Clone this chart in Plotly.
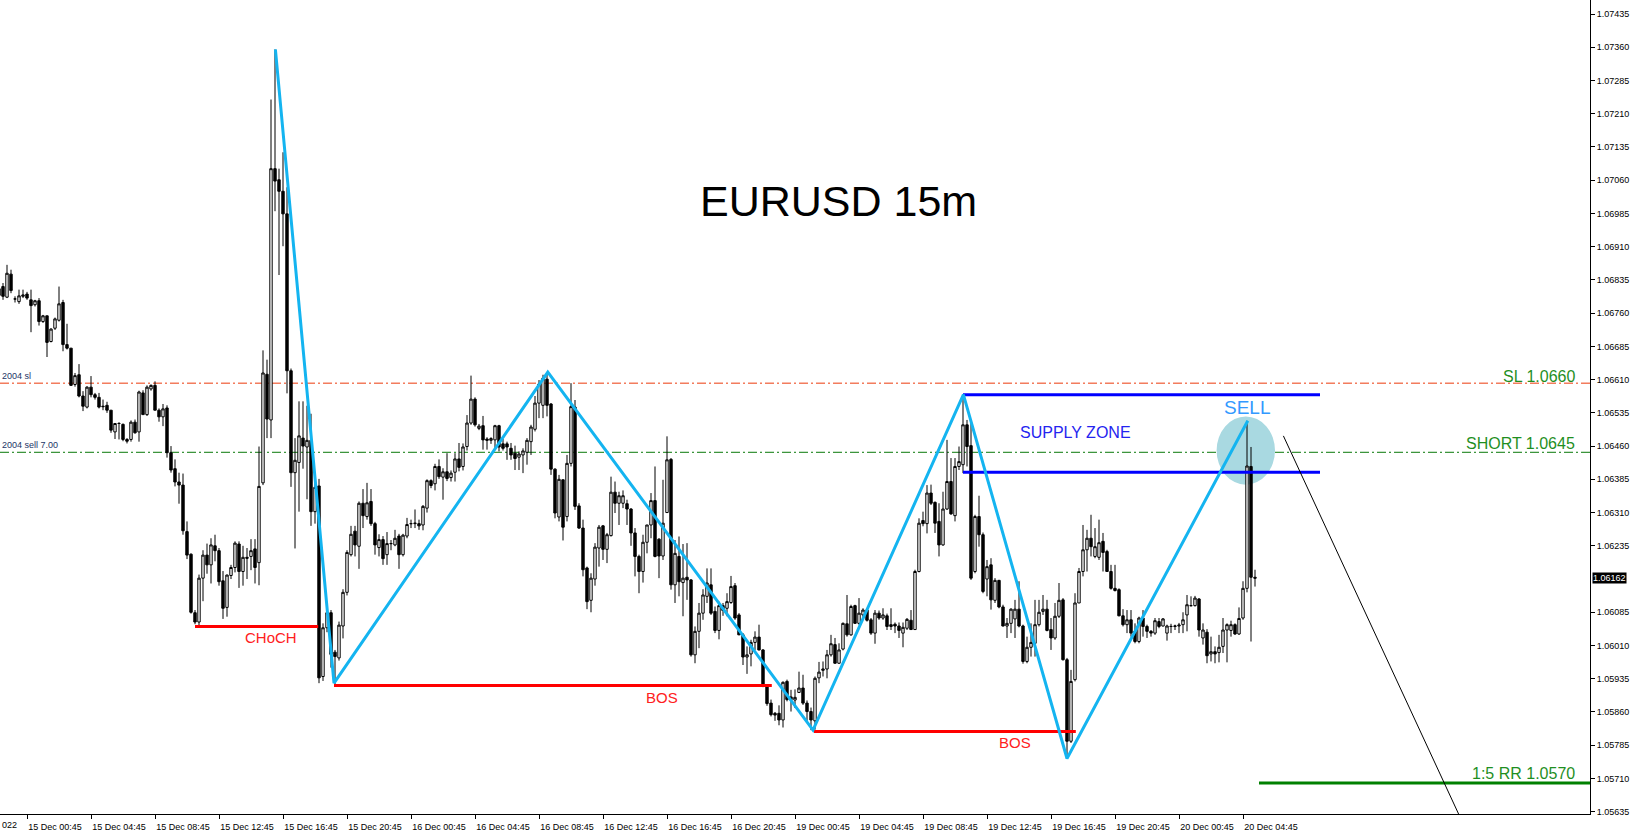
import plotly.graph_objects as go

# ---------------- data ----------------
first_bar = -7  # bar index of the first candle (0 = 15 Dec 00:45, 15-minute bars)

opens = [1.06815,1.06820,1.06796,1.06848,1.06792,1.06786,1.06798,1.06803,1.06790,1.06779,
1.06788,1.06741,1.06754,1.06696,1.06726,1.06744,1.06784,1.06689,1.06681,1.06599,
1.06621,1.06573,1.06548,1.06593,1.06576,1.06570,1.06550,1.06552,1.06541,1.06492,
1.06511,1.06509,1.06475,1.06475,1.06514,1.06492,1.06580,1.06531,1.06589,1.06597,
1.06541,1.06526,1.06546,1.06445,1.06409,1.06379,1.06372,1.06267,1.06216,1.06084,
1.06063,1.06162,1.06214,1.06192,1.06235,1.06224,1.06156,1.06096,1.06168,1.06186,
1.06239,1.06177,1.06209,1.06211,1.06228,1.06197,1.06377,1.06622,1.06519,1.07086,
1.07061,1.07035,1.06984,1.06630,1.06400,1.06423,1.06478,1.06458,1.06473,1.06312,
1.06370,1.05940,1.06050,1.06084,1.05995,1.05982,1.06054,1.06130,1.06215,1.06268,
1.06234,1.06331,1.06301,1.06335,1.06285,1.06231,1.06249,1.06215,1.06240,1.06237,
1.06257,1.06215,1.06257,1.06285,1.06285,1.06285,1.06282,1.06320,1.06382,1.06375,
1.06414,1.06390,1.06402,1.06389,1.06401,1.06431,1.06414,1.06459,1.06512,1.06566,
1.06500,1.06506,1.06476,1.06473,1.06474,1.06506,1.06465,1.06465,1.06455,1.06444,
1.06435,1.06440,1.06446,1.06470,1.06498,1.06557,1.06552,1.06611,1.06555,1.06408,
1.06300,1.06384,1.06301,1.06421,1.06548,1.06325,1.06275,1.06185,1.06112,1.06160,
1.06230,1.06280,1.06227,1.06258,1.06356,1.06331,1.06331,1.06330,1.06318,1.06264,
1.06211,1.06177,1.06243,1.06282,1.06337,1.06250,1.06212,1.06310,1.06430,1.06147,
1.06211,1.06152,1.06164,1.06158,1.05989,1.06042,1.06083,1.06121,1.06147,1.06087,
1.06044,1.06100,1.06094,1.06107,1.06145,1.06079,1.06034,1.05984,1.05991,1.06017,
1.06029,1.06000,1.05919,1.05880,1.05857,1.05857,1.05842,1.05929,1.05894,1.05887,
1.05904,1.05914,1.05880,1.05861,1.05840,1.05937,1.05954,1.05957,1.05989,1.06012,
1.05970,1.06002,1.06059,1.06034,1.06100,1.06060,1.06079,1.06090,1.06068,1.06038,
1.06083,1.06072,1.06077,1.06057,1.06058,1.06054,1.06038,1.06049,1.06067,1.06046,
1.06177,1.06292,1.06285,1.06354,1.06333,1.06290,1.06237,1.06318,1.06380,1.06303,
1.06414,1.06418,1.06508,1.06461,1.06177,1.06301,1.06260,1.06160,1.06192,1.06112,
1.06157,1.06097,1.06054,1.06060,1.06070,1.06092,1.06054,1.05974,1.06006,1.06015,
1.06057,1.06087,1.06092,1.06046,1.06027,1.06076,1.06113,1.05978,1.05794,1.05933,
1.06106,1.06177,1.06226,1.06252,1.06211,1.06209,1.06245,1.06222,1.06177,1.06139,
1.06136,1.06077,1.06057,1.06068,1.06042,1.06019,1.06072,1.06053,1.06042,1.06038,
1.06064,1.06054,1.06038,1.06053,1.06053,1.06054,1.06057,1.06079,1.06100,1.06100,
1.06115,1.06027,1.06040,1.05991,1.05996,1.05994,1.06008,1.06045,1.06044,1.06057,
1.06036,1.06072,1.06139,1.06414,1.06164]

highs = [1.06825,1.06828,1.06869,1.06858,1.06798,1.06813,1.06813,1.06808,1.06813,1.06790,
1.06794,1.06756,1.06754,1.06726,1.06750,1.06820,1.06790,1.06736,1.06681,1.06625,
1.06645,1.06584,1.06595,1.06618,1.06580,1.06580,1.06565,1.06560,1.06541,1.06511,
1.06514,1.06511,1.06478,1.06518,1.06520,1.06585,1.06586,1.06597,1.06599,1.06606,
1.06545,1.06555,1.06552,1.06460,1.06430,1.06400,1.06398,1.06290,1.06218,1.06090,
1.06170,1.06225,1.06240,1.06252,1.06260,1.06230,1.06178,1.06170,1.06192,1.06245,
1.06245,1.06235,1.06230,1.06250,1.06250,1.06459,1.06676,1.06655,1.07242,1.07355,
1.07086,1.07123,1.07044,1.06635,1.06478,1.06561,1.06561,1.06551,1.06533,1.06386,
1.06386,1.06060,1.06095,1.06090,1.06000,1.06064,1.06137,1.06225,1.06280,1.06280,
1.06335,1.06363,1.06377,1.06363,1.06289,1.06261,1.06257,1.06266,1.06248,1.06271,
1.06262,1.06262,1.06298,1.06294,1.06317,1.06294,1.06327,1.06385,1.06385,1.06420,
1.06430,1.06410,1.06444,1.06405,1.06444,1.06467,1.06466,1.06530,1.06619,1.06570,
1.06510,1.06528,1.06480,1.06480,1.06508,1.06508,1.06476,1.06470,1.06467,1.06461,
1.06448,1.06455,1.06478,1.06508,1.06573,1.06609,1.06621,1.06627,1.06557,1.06410,
1.06395,1.06385,1.06440,1.06602,1.06564,1.06331,1.06294,1.06188,1.06173,1.06241,
1.06282,1.06282,1.06264,1.06391,1.06380,1.06357,1.06360,1.06339,1.06320,1.06275,
1.06215,1.06260,1.06282,1.06354,1.06414,1.06252,1.06384,1.06482,1.06433,1.06248,
1.06256,1.06239,1.06241,1.06160,1.06053,1.06106,1.06137,1.06184,1.06184,1.06098,
1.06109,1.06106,1.06128,1.06167,1.06151,1.06083,1.06038,1.06008,1.06023,1.06042,
1.06057,1.06002,1.05922,1.05888,1.05860,1.05875,1.05929,1.05933,1.05910,1.05911,
1.05951,1.05944,1.05886,1.05870,1.05940,1.05973,1.05974,1.06000,1.06034,1.06027,
1.06015,1.06062,1.06124,1.06102,1.06102,1.06117,1.06094,1.06094,1.06072,1.06090,
1.06089,1.06094,1.06082,1.06094,1.06062,1.06062,1.06062,1.06072,1.06090,1.06181,
1.06297,1.06312,1.06372,1.06373,1.06335,1.06331,1.06357,1.06474,1.06433,1.06433,
1.06459,1.06576,1.06519,1.06512,1.06305,1.06348,1.06265,1.06203,1.06207,1.06162,
1.06158,1.06102,1.06072,1.06094,1.06113,1.06155,1.06057,1.06030,1.06060,1.06113,
1.06113,1.06124,1.06113,1.06072,1.06106,1.06151,1.06117,1.05982,1.05955,1.06128,
1.06185,1.06282,1.06271,1.06305,1.06275,1.06294,1.06264,1.06226,1.06192,1.06192,
1.06139,1.06092,1.06090,1.06090,1.06060,1.06075,1.06090,1.06057,1.06045,1.06072,
1.06072,1.06072,1.06057,1.06059,1.06057,1.06061,1.06085,1.06124,1.06121,1.06122,
1.06117,1.06060,1.06047,1.06030,1.06008,1.06034,1.06072,1.06060,1.06066,1.06060,
1.06096,1.06155,1.06517,1.06458,1.06181]

lows = [1.06795,1.06790,1.06794,1.06805,1.06784,1.06781,1.06794,1.06790,1.06717,1.06775,
1.06732,1.06738,1.06661,1.06694,1.06722,1.06741,1.06674,1.06678,1.06596,1.06594,
1.06570,1.06539,1.06545,1.06570,1.06565,1.06545,1.06541,1.06535,1.06490,1.06476,
1.06475,1.06471,1.06466,1.06470,1.06488,1.06470,1.06531,1.06528,1.06585,1.06541,
1.06515,1.06505,1.06434,1.06400,1.06369,1.06330,1.06260,1.06205,1.06082,1.06058,
1.06056,1.06110,1.06172,1.06150,1.06200,1.06145,1.06070,1.06075,1.06160,1.06175,
1.06140,1.06145,1.06160,1.06180,1.06150,1.06146,1.06372,1.06478,1.06478,1.06990,
1.06846,1.06911,1.06579,1.06368,1.06229,1.06312,1.06409,1.06340,1.06280,1.06285,
1.05925,1.05930,1.06040,1.05960,1.05920,1.05976,1.06026,1.06123,1.06211,1.06211,
1.06183,1.06275,1.06294,1.06280,1.06215,1.06211,1.06192,1.06192,1.06225,1.06234,
1.06183,1.06211,1.06252,1.06275,1.06275,1.06271,1.06270,1.06310,1.06365,1.06360,
1.06386,1.06339,1.06381,1.06380,1.06380,1.06403,1.06405,1.06450,1.06508,1.06504,
1.06496,1.06452,1.06452,1.06465,1.06452,1.06448,1.06450,1.06429,1.06429,1.06406,
1.06406,1.06399,1.06418,1.06440,1.06493,1.06523,1.06523,1.06527,1.06395,1.06297,
1.06290,1.06247,1.06290,1.06414,1.06316,1.06273,1.06166,1.06092,1.06085,1.06145,
1.06188,1.06203,1.06196,1.06256,1.06309,1.06282,1.06320,1.06282,1.06235,1.06166,
1.06128,1.06152,1.06218,1.06252,1.06209,1.06162,1.06203,1.06309,1.06136,1.06106,
1.06121,1.06076,1.06113,1.05985,1.05970,1.06004,1.06068,1.06106,1.06079,1.06038,
1.06024,1.06077,1.06076,1.06104,1.06068,1.06034,1.05966,1.05946,1.05963,1.06000,
1.05999,1.05916,1.05874,1.05850,1.05840,1.05830,1.05825,1.05884,1.05861,1.05869,
1.05903,1.05876,1.05840,1.05819,1.05820,1.05925,1.05940,1.05936,1.05985,1.05969,
1.05969,1.05999,1.06030,1.06032,1.06059,1.06057,1.06068,1.06064,1.06034,1.06014,
1.06068,1.06068,1.06045,1.06045,1.06038,1.06027,1.06006,1.06045,1.06045,1.06045,
1.06175,1.06279,1.06263,1.06327,1.06264,1.06211,1.06235,1.06316,1.06305,1.06290,
1.06406,1.06399,1.06414,1.06158,1.06173,1.06233,1.06128,1.06121,1.06091,1.06106,
1.06094,1.06053,1.06027,1.06038,1.06027,1.06051,1.05969,1.05970,1.05985,1.05985,
1.06053,1.06079,1.06042,1.06000,1.06023,1.06072,1.05976,1.05755,1.05790,1.05929,
1.06106,1.06166,1.06177,1.06211,1.06207,1.06203,1.06177,1.06177,1.06136,1.06132,
1.06076,1.06053,1.06038,1.06030,1.06015,1.06015,1.06030,1.06027,1.06030,1.06034,
1.06049,1.06053,1.06021,1.06038,1.06045,1.06038,1.06038,1.06042,1.06098,1.06098,
1.06030,1.06012,1.05970,1.05974,1.05970,1.05972,1.05993,1.05972,1.06030,1.06034,
1.06034,1.06068,1.06130,1.06019,1.06143]

closes = [1.06800,1.06798,1.06850,1.06811,1.06792,1.06799,1.06801,1.06794,1.06777,1.06788,
1.06741,1.06754,1.06694,1.06724,1.06747,1.06781,1.06689,1.06681,1.06597,1.06619,
1.06573,1.06550,1.06593,1.06576,1.06570,1.06548,1.06549,1.06541,1.06496,1.06511,
1.06511,1.06475,1.06471,1.06514,1.06490,1.06582,1.06531,1.06593,1.06597,1.06541,
1.06526,1.06544,1.06445,1.06406,1.06379,1.06372,1.06269,1.06214,1.06085,1.06063,
1.06162,1.06214,1.06192,1.06237,1.06224,1.06154,1.06094,1.06169,1.06186,1.06241,
1.06177,1.06209,1.06207,1.06224,1.06186,1.06369,1.06625,1.06521,1.07086,1.07058,
1.07035,1.06984,1.06630,1.06400,1.06428,1.06483,1.06460,1.06473,1.06312,1.06367,
1.05937,1.06050,1.06084,1.05990,1.05985,1.06056,1.06130,1.06220,1.06261,1.06237,
1.06331,1.06303,1.06332,1.06285,1.06237,1.06249,1.06206,1.06240,1.06240,1.06252,
1.06215,1.06259,1.06283,1.06285,1.06286,1.06280,1.06324,1.06382,1.06371,1.06414,
1.06391,1.06402,1.06387,1.06399,1.06431,1.06412,1.06458,1.06512,1.06566,1.06508,
1.06505,1.06474,1.06473,1.06477,1.06506,1.06458,1.06455,1.06458,1.06440,1.06432,
1.06442,1.06449,1.06473,1.06503,1.06557,1.06600,1.06613,1.06552,1.06408,1.06309,
1.06385,1.06277,1.06421,1.06549,1.06324,1.06275,1.06181,1.06109,1.06162,1.06232,
1.06277,1.06227,1.06260,1.06356,1.06331,1.06348,1.06348,1.06318,1.06264,1.06211,
1.06177,1.06243,1.06282,1.06337,1.06211,1.06212,1.06286,1.06429,1.06147,1.06218,
1.06154,1.06162,1.06158,1.05989,1.06042,1.06083,1.06124,1.06151,1.06083,1.06044,
1.06100,1.06089,1.06109,1.06143,1.06072,1.06034,1.05984,1.05989,1.06017,1.06029,
1.06000,1.05918,1.05879,1.05854,1.05853,1.05842,1.05927,1.05888,1.05888,1.05893,
1.05914,1.05880,1.05861,1.05842,1.05936,1.05950,1.05957,1.05989,1.06014,1.05970,
1.06000,1.06060,1.06034,1.06098,1.06060,1.06083,1.06090,1.06067,1.06038,1.06083,
1.06072,1.06079,1.06053,1.06053,1.06054,1.06044,1.06051,1.06069,1.06046,1.06177,
1.06286,1.06285,1.06354,1.06331,1.06286,1.06237,1.06318,1.06380,1.06307,1.06414,
1.06425,1.06508,1.06459,1.06162,1.06301,1.06260,1.06132,1.06188,1.06113,1.06157,
1.06097,1.06054,1.06060,1.06092,1.06092,1.06054,1.05974,1.06006,1.06017,1.06057,
1.06085,1.06092,1.06044,1.06027,1.06076,1.06112,1.05978,1.05794,1.05929,1.06106,
1.06177,1.06226,1.06252,1.06233,1.06233,1.06242,1.06220,1.06177,1.06139,1.06134,
1.06077,1.06057,1.06068,1.06038,1.06019,1.06072,1.06053,1.06042,1.06038,1.06066,
1.06053,1.06070,1.06054,1.06053,1.06054,1.06056,1.06068,1.06102,1.06100,1.06117,
1.06045,1.06045,1.05987,1.05996,1.05991,1.06006,1.06045,1.06057,1.06057,1.06036,
1.06071,1.06139,1.06415,1.06164,1.06162]

# time-axis labels (every 16 bars = 4 hours)
x_tick_bars = [0, 16, 32, 48, 64, 80, 96, 112, 128, 144, 160, 176, 192, 208, 224, 240, 256, 272, 288, 304]
x_tick_labels = ["15 Dec 00:45", "15 Dec 04:45", "15 Dec 08:45", "15 Dec 12:45", "15 Dec 16:45",
                 "15 Dec 20:45", "16 Dec 00:45", "16 Dec 04:45", "16 Dec 08:45", "16 Dec 12:45",
                 "16 Dec 16:45", "16 Dec 20:45", "19 Dec 00:45", "19 Dec 04:45", "19 Dec 08:45",
                 "19 Dec 12:45", "19 Dec 16:45", "19 Dec 20:45", "20 Dec 00:45", "20 Dec 04:45"]

# price-axis labels
y_tick_labels = ["1.05635", "1.05710", "1.05785", "1.05860", "1.05935", "1.06010", "1.06085",
                 "1.06235", "1.06310", "1.06385", "1.06460", "1.06535", "1.06610", "1.06685",
                 "1.06760", "1.06835", "1.06910", "1.06985", "1.07060", "1.07135", "1.07210",
                 "1.07285", "1.07360", "1.07435"]

current_price = 1.06162

# zig-zag swing points (bar index, price)
zig_bars = [62.1, 76.75, 130.2, 196.5, 234.1, 260.0, 305.2]
zig_prices = [1.07355, 1.05925, 1.06627, 1.05819, 1.06576, 1.05755, 1.06517]

# levels
sl_level = 1.06602
short_level = 1.06446
rr_level = 1.05700
supply_top = 1.06576
supply_bottom = 1.06401
choch_level = 1.06053
bos1_level = 1.05920
bos2_level = 1.05816

# ---------------- figure ----------------
bars = list(range(first_bar, first_bar + len(closes)))
FONT = "Liberation Sans"

fig = go.Figure()

fig.add_trace(go.Candlestick(
    x=bars, open=opens, high=highs, low=lows, close=closes,
    increasing=dict(line=dict(color="black", width=1), fillcolor="white"),
    decreasing=dict(line=dict(color="black", width=1), fillcolor="black"),
    whiskerwidth=0, showlegend=False,
))

def hline(x0, x1, y, color, width=3):
    fig.add_trace(go.Scatter(x=[x0, x1], y=[y, y], mode="lines",
                             line=dict(color=color, width=width), hoverinfo="skip",
                             showlegend=False))

# structure lines
hline(42, 72.8, choch_level, "#ff0000")
hline(76.75, 186.2, bos1_level, "#ff0000")
hline(196.75, 262.2, bos2_level, "#ff0000")
hline(234, 323.25, supply_top, "#0000ff")
hline(234, 323.25, supply_bottom, "#0000ff")
hline(308, 400, rr_level, "#008000")

# zig-zag
fig.add_trace(go.Scatter(x=zig_bars, y=zig_prices, mode="lines",
                         line=dict(color="#14b4f0", width=3), hoverinfo="skip", showlegend=False))

# projection line
fig.add_trace(go.Scatter(x=[314.1, 362.0], y=[1.06483, 1.05550], mode="lines",
                         line=dict(color="black", width=1), hoverinfo="skip", showlegend=False))

shapes = [
    dict(type="line", xref="paper", x0=0, x1=1, yref="y", y0=sl_level, y1=sl_level,
         line=dict(color="#ec3a0c", width=1, dash="9px,3px,2px,3px"), layer="below"),
    dict(type="line", xref="paper", x0=0, x1=1, yref="y", y0=short_level, y1=short_level,
         line=dict(color="#087808", width=1, dash="9px,3px,2px,3px"), layer="below"),
    dict(type="circle", xref="x", yref="y", x0=297.4, x1=312.0, y0=1.06373, y1=1.06527,
         fillcolor="#a9d9e1", line=dict(width=0), layer="below"),
]

green_txt = "#1f8f1f"
annotations = [
    dict(text="EURUSD 15m", xref="paper", yref="paper", x=838 / 1590, y=1 - 175 / 814,
         showarrow=False, font=dict(family=FONT, size=43, color="black")),
    dict(text="SL 1.0660", x=387.6, y=1.06617, xanchor="right", showarrow=False,
         font=dict(family=FONT, size=16, color=green_txt)),
    dict(text="SHORT 1.0645", x=387.6, y=1.06465, xanchor="right", showarrow=False,
         font=dict(family=FONT, size=16, color=green_txt)),
    dict(text="1:5 RR 1.0570", x=387.6, y=1.05721, xanchor="right", showarrow=False,
         font=dict(family=FONT, size=16, color=green_txt)),
    dict(text="CHoCH", x=61, y=1.06028, showarrow=False,
         font=dict(family=FONT, size=15, color="#ff2020")),
    dict(text="BOS", x=158.75, y=1.05892, showarrow=False,
         font=dict(family=FONT, size=15, color="#ff2020")),
    dict(text="BOS", x=247, y=1.05792, showarrow=False,
         font=dict(family=FONT, size=15, color="#ff2020")),
    dict(text="SUPPLY ZONE", x=262.1, y=1.06490, showarrow=False,
         font=dict(family=FONT, size=16, color="#2424f0")),
    dict(text="SELL", x=305, y=1.06546, showarrow=False,
         font=dict(family=FONT, size=19, color="#3399ff")),
    dict(text="2004 sl", xref="paper", x=0, xanchor="left", y=sl_level, yanchor="bottom",
         showarrow=False, font=dict(family=FONT, size=9, color="#1c3566")),
    dict(text="2004 sell 7.00", xref="paper", x=0, xanchor="left", y=short_level, yanchor="bottom",
         showarrow=False, font=dict(family=FONT, size=9, color="#1c3566")),
    dict(text="022", xref="paper", yref="paper", x=0, y=0, xanchor="left", yanchor="top",
         yshift=-4, showarrow=False, font=dict(family=FONT, size=9, color="black")),
    dict(text=f"{current_price:.5f}", xref="paper", x=1, y=current_price, xanchor="left",
         xshift=2, showarrow=False, bgcolor="black", borderpad=0,
         font=dict(family=FONT, size=9, color="white")),
]

fig.update_layout(
    width=1636, height=834,
    margin=dict(l=0, r=46, t=0, b=20),
    paper_bgcolor="white", plot_bgcolor="white",
    showlegend=False, boxgap=0.15,
    shapes=shapes, annotations=annotations,
    xaxis=dict(range=[-6.75, 390.75], showgrid=False, zeroline=False,
               showline=True, linecolor="black", linewidth=1,
               ticks="outside", ticklen=4, tickcolor="black",
               tickvals=x_tick_bars, ticktext=x_tick_labels, ticklabelshift=28,
               tickfont=dict(family=FONT, size=9, color="black"),
               rangeslider=dict(visible=False), fixedrange=True),
    yaxis=dict(side="right", range=[1.056298, 1.074666], showgrid=False, zeroline=False,
               showline=True, linecolor="black", linewidth=1,
               ticks="outside", ticklen=4, tickcolor="black",
               tickvals=[float(s) for s in y_tick_labels], ticktext=y_tick_labels,
               tickfont=dict(family=FONT, size=9, color="black"), fixedrange=True),
)

fig.write_html("out.html", config={"displayModeBar": False},
               post_script="document.body.style.margin='0';document.body.style.overflow='hidden';")
